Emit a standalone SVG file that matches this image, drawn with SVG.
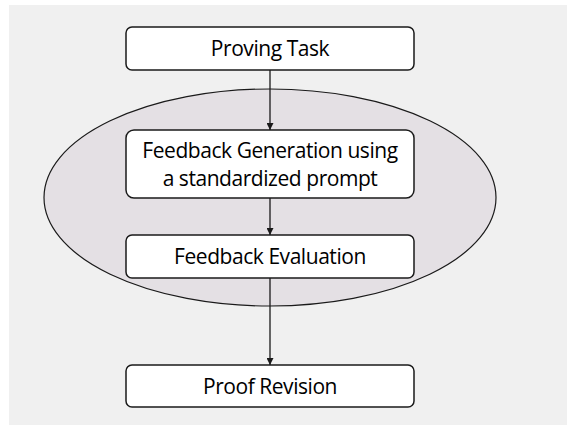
<svg xmlns="http://www.w3.org/2000/svg" width="567" height="425" viewBox="0 0 567 425">
<defs>
<style>
.box{fill:#ffffff;stroke:#1a1a1a;stroke-width:1.5}
.lbl{font-family:"Open Sans","Liberation Sans",sans-serif;font-size:21px;fill:#000000;text-anchor:middle;letter-spacing:-0.45px}
.conn{stroke:#1a1a1a;stroke-width:1.3;fill:none;marker-end:url(#arr)}
</style>
<marker id="arr" viewBox="0 0 10 10" refX="10" refY="5" markerWidth="7" markerHeight="7" markerUnits="userSpaceOnUse" orient="auto">
<path d="M0,0 L10,5 L0,10 z" fill="#1a1a1a"/>
</marker>
</defs>
<rect x="9" y="5" width="558" height="420" fill="#f0f0f0"/>
<g id="group-feedback">
<ellipse cx="270" cy="197.5" rx="226" ry="108.5" fill="#e4e0e4" stroke="#1a1a1a" stroke-width="1.2"/>
</g>
<g id="connectors">
<line class="conn" x1="270" y1="70" x2="270" y2="130"/>
<line class="conn" x1="270" y1="198" x2="270" y2="235"/>
<line class="conn" x1="270" y1="278" x2="270" y2="365"/>
</g>
<g id="proving-task">
<rect class="box" x="126" y="27" width="288" height="43" rx="6"/>
<text class="lbl" x="270" y="55.5">Proving Task</text>
</g>
<g id="feedback-generation">
<rect class="box" x="126" y="130" width="288" height="68" rx="8"/>
<text class="lbl" x="270" y="157.5">Feedback Generation using</text>
<text class="lbl" x="270" y="185.5">a standardized prompt</text>
</g>
<g id="feedback-evaluation">
<rect class="box" x="126" y="235" width="288" height="43" rx="6"/>
<text class="lbl" x="270" y="263.5">Feedback Evaluation</text>
</g>
<g id="proof-revision">
<rect class="box" x="126" y="365" width="288" height="42" rx="6"/>
<text class="lbl" x="270" y="393.5">Proof Revision</text>
</g>
</svg>
